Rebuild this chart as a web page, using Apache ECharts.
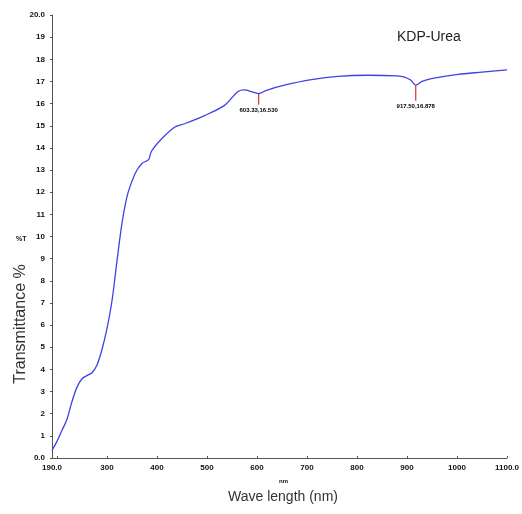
<!DOCTYPE html>
<html>
<head>
<meta charset="utf-8">
<script src="https://cdn.jsdelivr.net/npm/echarts@6/dist/echarts.min.js"></script>
<style>html,body{margin:0;padding:0;background:#fff;}#c{width:522px;height:514px;}</style>
</head>
<body>
<div id="c"></div>
<script>
var wavelengths = [190, 200, 210, 220, 230, 240, 250, 260, 270, 280, 290, 300, 310, 320, 330, 340, 350, 360, 370, 380, 384, 389, 409, 435, 455, 495, 535, 562, 575, 592, 603.33, 619, 655, 709, 762, 822, 880, 895, 908, 917.5, 930, 949, 1002, 1050, 1100];
var transmittance = [0.35, 0.75, 1.25, 1.75, 2.55, 3.2, 3.58, 3.72, 3.85, 4.2, 4.9, 5.85, 7.1, 8.9, 10.6, 11.8, 12.5, 13.0, 13.3, 13.42, 13.5, 13.85, 14.4, 14.93, 15.09, 15.46, 15.92, 16.55, 16.62, 16.52, 16.45, 16.6, 16.83, 17.08, 17.23, 17.28, 17.25, 17.2, 17.05, 16.83, 17.0, 17.13, 17.32, 17.42, 17.52];
var xTicks = [190, 200, 300, 400, 500, 600, 700, 800, 900, 1000, 1100];
var xLabels = [190, 300, 400, 500, 600, 700, 800, 900, 1000, 1100];
var peakX = [603.33, 917.5];
var peakY = [16.45, 16.83];
var peakLen = [0.5, 0.7];
var peakText = ['603.33,16.530', '917.50,16.878'];

var chart = echarts.init(document.getElementById('c'));
var tickFont = {fontSize: 8, fontWeight: 'bold', color: '#111', fontFamily: 'Liberation Sans, Arial'};
var peakSeries = peakX.map(function (x, i) {
  return {
    type: 'line', silent: true, showSymbol: true, symbol: 'circle', symbolSize: 0,
    lineStyle: {color: '#e03030', width: 1.2},
    itemStyle: {color: '#e03030'},
    data: [
      {value: [x, peakY[i]]},
      {value: [x, peakY[i] - peakLen[i]],
       label: {show: true, position: 'bottom', distance: 3, formatter: peakText[i],
               fontSize: 6, fontWeight: 'bold', color: '#000', fontFamily: 'Liberation Sans, Arial'}}
    ],
    z: 3
  };
});
chart.setOption({
  animation: false,
  backgroundColor: '#fff',
  grid: {left: 52, right: 12, top: 15, bottom: 56},
  xAxis: {
    type: 'value', min: 190, max: 1100,
    axisLine: {show: true, lineStyle: {color: '#555', width: 1}},
    axisTick: {show: true, length: 2, inside: true, customValues: xTicks, lineStyle: {color: '#555'}},
    axisLabel: Object.assign({margin: 6, customValues: xLabels,
      formatter: function (v) { return (v === 190 || v === 1100) ? v.toFixed(1) : String(v); }}, tickFont),
    splitLine: {show: false}
  },
  yAxis: {
    type: 'value', min: 0, max: 20, interval: 1,
    axisLine: {show: true, lineStyle: {color: '#555', width: 1}},
    axisTick: {show: true, length: 2, lineStyle: {color: '#555'}},
    axisLabel: Object.assign({margin: 7,
      formatter: function (v) { return (v === 0 || v === 20) ? v.toFixed(1) : String(v); }}, tickFont),
    splitLine: {show: false}
  },
  series: [{
    type: 'line',
    data: wavelengths.map(function (w, i) { return [w, transmittance[i]]; }),
    smooth: 0.3,
    showSymbol: false,
    lineStyle: {color: '#4040e8', width: 1.3},
    z: 4
  }].concat(peakSeries),
  graphic: [
    {type: 'text', left: 397, top: 30, style: {text: 'KDP-Urea', fontSize: 14, fill: '#222', fontFamily: 'Liberation Sans, Arial'}},
    {type: 'text', left: 16, top: 236, style: {text: '%T', fontSize: 7, fontWeight: 'bold', fill: '#111', fontFamily: 'Liberation Sans, Arial'}},
    {type: 'text', left: 279, top: 478, style: {text: 'nm', fontSize: 6, fontWeight: 'bold', fill: '#111', fontFamily: 'Liberation Sans, Arial'}},
    {type: 'text', x: 21, y: 324, rotation: Math.PI / 2,
     style: {text: 'Transmittance %', fontSize: 16, fill: '#333', align: 'center', verticalAlign: 'middle', fontFamily: 'Liberation Sans, Arial'}},
    {type: 'text', x: 283, y: 497,
     style: {text: 'Wave length (nm)', fontSize: 14, fill: '#333', align: 'center', verticalAlign: 'middle', fontFamily: 'Liberation Sans, Arial'}}
  ]
});
</script>
</body>
</html>
